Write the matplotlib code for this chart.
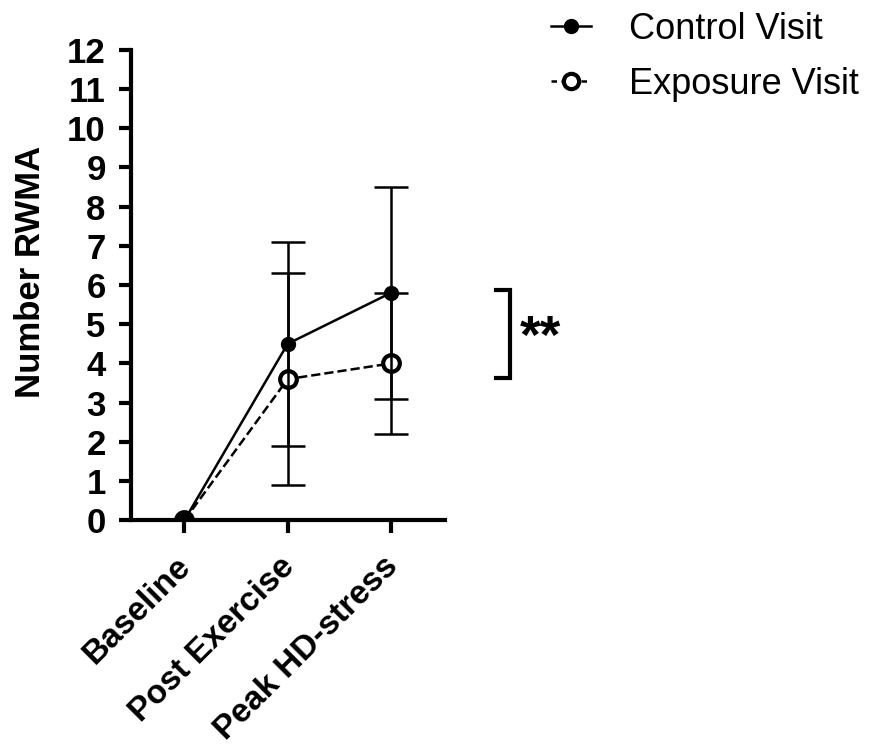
import numpy as np
import matplotlib.pyplot as plt
import matplotlib.transforms as mtransforms
from matplotlib.lines import Line2D

plt.rcParams['font.family'] = ['Liberation Sans', 'DejaVu Sans']

# donnees
etapes = ["Baseline", "Post Exercise", "Peak HD-stress"]
control = [0.0, 4.5, 5.8]
control_err = [0.0, 2.6, 2.7]
exposure = [0.0, 3.6, 4.0]
exposure_err = [0.0, 2.7, 1.8]

x = np.arange(len(etapes))

fig = plt.figure(figsize=(8.77, 7.53), dpi=100)
ax = fig.add_axes([0.149, 0.309, 0.358, 0.625])

c = ax.errorbar(x, control, yerr=control_err, color="black", lw=1.8, marker="o",
                ms=10, mfc="black", mec="black", capsize=12, capthick=1.8,
                elinewidth=1.8, zorder=5)
e = ax.errorbar(x, exposure, yerr=exposure_err, color="black", lw=1.8, ls="--",
                marker="o", ms=12, mfc="white", mec="black", mew=3, capsize=12,
                capthick=1.8, elinewidth=1.8, zorder=4)
for cap in c[1] + e[1]:
    cap.set_markeredgewidth(1.8)

for s in ["top", "right"]:
    ax.spines[s].set_visible(False)
for s in ["left", "bottom"]:
    ax.spines[s].set_linewidth(3)
ax.tick_params(width=3, length=9)
ax.tick_params(axis="y", pad=9)
ax.tick_params(axis="x", pad=13)
ax.spines["left"].set_bounds(0, 12)

ax.set_xlim(-0.52, 2.52)
ax.set_ylim(0, 12)
ax.set_yticks(range(0, 13))
ax.set_xticks(x)
ax.set_xticklabels(etapes, rotation=45, ha="right", va="top",
                   rotation_mode="anchor", fontsize=24, fontweight="bold")
# petit decalage vers la gauche des etiquettes en x
decal = mtransforms.ScaledTranslation(-9 / 100, 0, fig.dpi_scale_trans)
for lab in ax.get_xticklabels():
    lab.set_transform(lab.get_transform() + decal)
for lab in ax.get_yticklabels():
    lab.set_fontsize(25)
    lab.set_fontweight("bold")
ax.set_ylabel("Number RWMA", fontsize=25, fontweight="bold")
ax.yaxis.set_label_coords(-0.265, 0.528)

# crochet de significativite
ax.plot([3.02, 3.15, 3.15, 3.02], [5.87, 5.87, 3.62, 3.62], color="black",
        lw=3, clip_on=False, solid_joinstyle="miter")
ax.text(3.25, 4.62, "**", fontsize=38, fontweight="bold", va="center",
        ha="left", clip_on=False)

handles = [
    Line2D([], [], color="black", lw=1.8, marker="o", ms=10, mfc="black"),
    Line2D([], [], color="black", lw=1.8, dashes=(2.2, 1.8), marker="o",
           ms=11, mfc="white", mew=3),
]
fig.legend(handles, ["Control Visit", "Exposure Visit"], loc="upper left",
           bbox_to_anchor=(0.6, 1.018), frameon=False, fontsize=26,
           borderpad=0.2, handlelength=1.1, handletextpad=1.05,
           labelspacing=0.55)

fig.savefig("out.png", dpi=100)
